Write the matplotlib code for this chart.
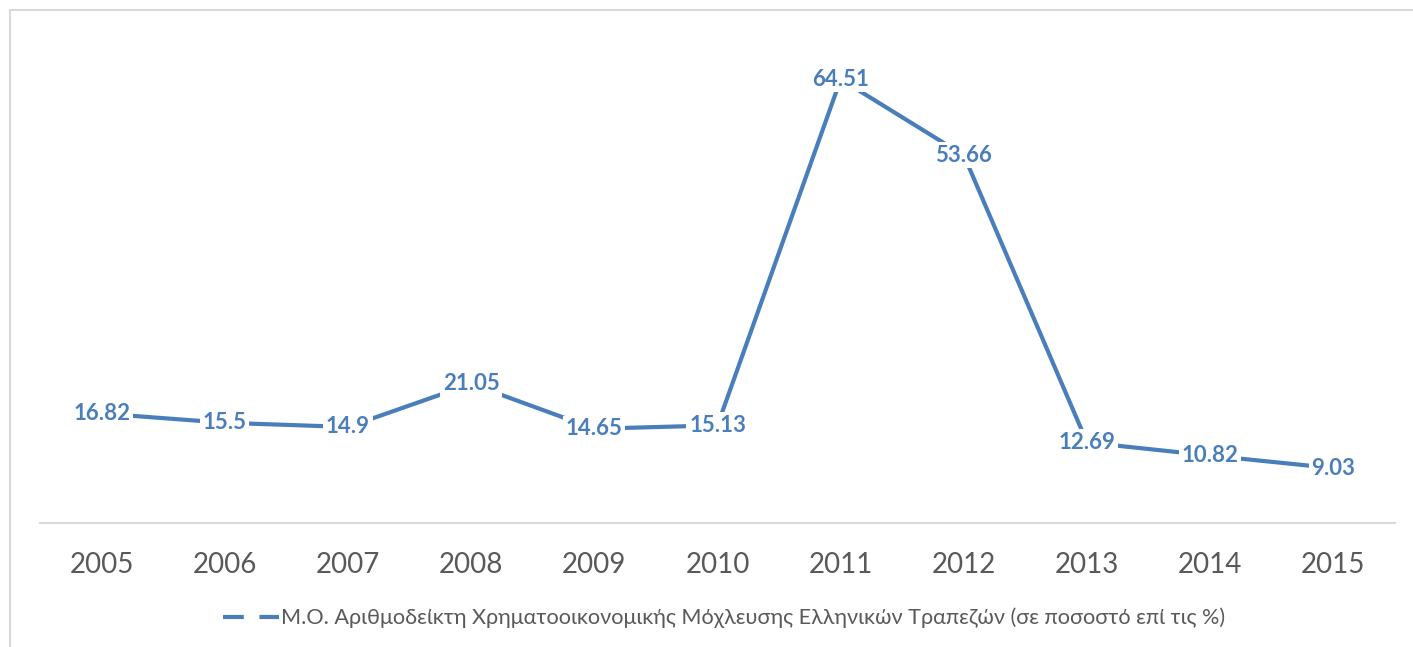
import matplotlib
matplotlib.use("Agg")
import matplotlib.pyplot as plt
from matplotlib.lines import Line2D

years = ['2005', '2006', '2007', '2008', '2009', '2010',
         '2011', '2012', '2013', '2014', '2015']
values = [16.82, 15.5, 14.9, 21.05, 14.65, 15.13,
          64.51, 53.66, 12.69, 10.82, 9.03]
series_name = 'Μ.Ο. Αριθμοδείκτη Χρηματοοικονομικής Μόχλευσης Ελληνικών Τραπεζών (σε ποσοστό επί τις %)'

plt.rcParams['font.family'] = ['Lato', 'DejaVu Sans']

W, H = 1413, 647
fig = plt.figure(figsize=(W / 100, H / 100), dpi=100)

# axes in pixel coordinates
left, right, top, bottom = 40, 1395, 38, 523
ax = fig.add_axes([left / W, 1 - bottom / H, (right - left) / W, (bottom - top) / H])

blue = '#4a7ebb'
x = list(range(len(years)))
ax.plot(x, values, color=blue, linewidth=3, solid_capstyle='butt', zorder=2)

for xi, v in zip(x, values):
    ax.text(xi, v, f'{v:g}', ha='center', va='center', fontsize=16,
            fontweight='bold', color=blue, zorder=3,
            bbox=dict(facecolor='white', edgecolor='none', pad=2))

ax.set_xlim(-0.5, len(years) - 0.5)
ax.set_ylim(1.2, 70.4)
ax.set_xticks(x)
ax.set_xticklabels(years, fontsize=20, color='#595959')
ax.set_yticks([])
ax.tick_params(axis='x', length=0, pad=21)
for s in ['top', 'right', 'left']:
    ax.spines[s].set_visible(False)
ax.spines['bottom'].set_color('#d9d9d9')
ax.spines['bottom'].set_linewidth(1.5)

handle = Line2D([], [], color=blue, linewidth=3, linestyle=(0, (5, 3.75)))
fig.legend([handle], [series_name], loc='center', bbox_to_anchor=(724 / W, 1 - 618 / H),
           frameon=False, fontsize=15.6, labelcolor='#595959',
           handlelength=2.6, handletextpad=0.1)

# outer frame (top and left edges only)
fig.add_artist(Line2D([10 / W, 1], [1 - 10 / H, 1 - 10 / H], transform=fig.transFigure,
                      color='#d9d9d9', linewidth=1.5))
fig.add_artist(Line2D([10 / W, 10 / W], [0, 1 - 10 / H], transform=fig.transFigure,
                      color='#d9d9d9', linewidth=1.5))

fig.savefig('out.png', dpi=100, facecolor='white')
